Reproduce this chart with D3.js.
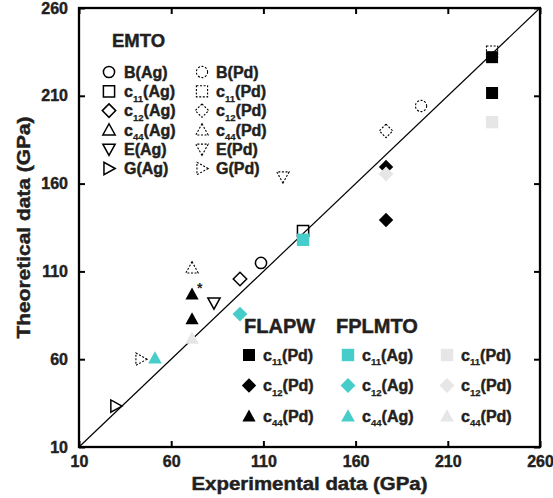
<!DOCTYPE html>
<html>
<head>
<meta charset="utf-8">
<script src="https://cdn.jsdelivr.net/npm/d3@7"></script>
<style>
  body { margin: 0; background: #fff; }
  text { font-family: "Liberation Sans", Arial, sans-serif; font-weight: bold; fill: #231f20; stroke: #231f20; stroke-width: 0.45px; }
</style>
</head>
<body>
<div id="chart"></div>
<script>
// experimental (x) vs theoretical (y) elastic constants, GPa
var emtoAgKeys = ["B", "c11", "c12", "E", "G"];
var emtoAgExp  = [108.7, 131.5, 97.3, 83.2, 30.0];
var emtoAgTheo = [114.8, 133.0, 105.7, 92.0, 33.3];

var emtoPdKeys = ["B", "c11", "c12", "c44", "E", "G"];
var emtoPdExp  = [195.5, 234.0, 176.5, 71.3, 120.6, 43.6];
var emtoPdTheo = [204.2, 235.2, 190.0, 112.0, 163.8, 60.0];

var flapwPdKeys = ["c11", "c11", "c12", "c12", "c44", "c44"];
var flapwPdExp  = [234.0, 234.0, 176.5, 176.5, 71.3, 71.3];
var flapwPdTheo = [232.0, 211.6, 169.5, 139.3, 83.0, 97.1];
var flapwPdStar = [false, false, false, false, false, true];

var fplmtoAgKeys = ["c11", "c12", "c44"];
var fplmtoAgExp  = [131.5, 97.3, 51.2];
var fplmtoAgTheo = [128.0, 85.7, 60.7];

var fplmtoPdKeys = ["c11", "c12", "c44"];
var fplmtoPdExp  = [234.0, 176.5, 71.3];
var fplmtoPdTheo = [195.0, 165.5, 72.0];

var tickValues = [10, 60, 110, 160, 210, 260];
var emtoLegendKeys = ["B", "c11", "c12", "c44", "E", "G"];
var fullLegendKeys = ["c11", "c12", "c44"];

var width = 553, height = 498;
var margin = { top: 8, right: 13, bottom: 51, left: 79 };
var cyan = "#46cdc9", grey = "#e6e6e6", ink = "#000";

var svg = d3.select("#chart").append("svg")
	.attr("width", width)
	.attr("height", height);

var x = d3.scaleLinear().domain([10, 260]).range([margin.left, width - margin.right]);
var y = d3.scaleLinear().domain([10, 260]).range([height - margin.bottom, margin.top]);

// marker outlines, r is roughly the half width
function shapePath(kind, r) {
	var p = d3.path();
	if (kind == "B") {
		p.moveTo(r, 0);
		p.arc(0, 0, r, 0, 2 * Math.PI);
	} else if (kind == "c11") {
		p.rect(-r, -r, 2 * r, 2 * r);
	} else if (kind == "c12") {
		var d = r * 1.2;
		p.moveTo(0, -d); p.lineTo(d, 0); p.lineTo(0, d); p.lineTo(-d, 0);
	} else if (kind == "c44") {
		p.moveTo(0, -r * 1.1); p.lineTo(r * 1.1, r * 0.9); p.lineTo(-r * 1.1, r * 0.9);
	} else if (kind == "E") {
		p.moveTo(0, r * 1.1); p.lineTo(r * 1.1, -r * 0.9); p.lineTo(-r * 1.1, -r * 0.9);
	} else if (kind == "G") {
		p.moveTo(r * 1.1, 0); p.lineTo(-r * 0.9, -r * 1.1); p.lineTo(-r * 0.9, r * 1.1);
	}
	p.closePath();
	return p.toString();
}

// marker styles per method
var styles = {
	agOpen: { fill: "none", stroke: ink, sw: 1.5, dash: null, r: 5.6 },
	pdDash: { fill: "none", stroke: ink, sw: 1.1, dash: "2,1.6", r: 5.6 },
	flapw: { fill: ink, stroke: "none", sw: 0, dash: null, r: 6 },
	fpAg: { fill: cyan, stroke: "none", sw: 0, dash: null, r: 6.2 },
	fpPd: { fill: grey, stroke: "none", sw: 0, dash: null, r: 6.2 }
};

function marker(g, kind, st, cx, cy) {
	g.append("path")
		.attr("d", shapePath(kind, st.r))
		.attr("transform", "translate(" + cx + "," + cy + ")")
		.attr("fill", st.fill)
		.attr("stroke", st.stroke)
		.attr("stroke-width", st.sw)
		.attr("stroke-dasharray", st.dash);
}

// frame + axes
var plot = svg.append("g");

plot.append("line")
	.attr("x1", x(10)).attr("y1", y(10))
	.attr("x2", x(260)).attr("y2", y(260))
	.attr("stroke", ink).attr("stroke-width", 1.2);

var xAxis = d3.axisBottom(x).tickValues(tickValues).tickSize(-6).tickPadding(9);
var yAxis = d3.axisLeft(y).tickValues(tickValues).tickSize(-6).tickPadding(11);
var xTop = d3.axisTop(x).tickValues(tickValues).tickSize(-6).tickFormat("");
var yRight = d3.axisRight(y).tickValues(tickValues).tickSize(-6).tickFormat("");

function styleAxis(g) {
	g.select(".domain").remove();
	g.selectAll(".tick line").attr("stroke", ink).attr("stroke-width", 2);
	g.selectAll(".tick text")
		.attr("fill", "#231f20")
		.style("font-size", "16px")
		.style("font-family", '"Liberation Sans", Arial, sans-serif')
		.style("font-weight", "bold");
}

svg.append("g").attr("transform", "translate(0," + y(10) + ")").call(xAxis).call(styleAxis);
svg.append("g").attr("transform", "translate(" + x(10) + ",0)").call(yAxis).call(styleAxis);
svg.append("g").attr("transform", "translate(0," + y(260) + ")").call(xTop).call(styleAxis);
svg.append("g").attr("transform", "translate(" + x(260) + ",0)").call(yRight).call(styleAxis);

svg.append("rect")
	.attr("x", x(10)).attr("y", y(260))
	.attr("width", x(260) - x(10)).attr("height", y(10) - y(260))
	.attr("fill", "none").attr("stroke", ink).attr("stroke-width", 2.3);

svg.append("text")
	.attr("x", (x(10) + x(260)) / 2)
	.attr("y", 490)
	.attr("text-anchor", "middle")
	.attr("textLength", 236).attr("lengthAdjust", "spacingAndGlyphs")
	.style("font-size", "17.5px")
	.text("Experimental data (GPa)");

svg.append("text")
	.attr("transform", "translate(30," + (y(10) + y(260)) / 2 + ") rotate(-90)")
	.attr("text-anchor", "middle")
	.attr("textLength", 222).attr("lengthAdjust", "spacingAndGlyphs")
	.style("font-size", "18px")
	.text("Theoretical data (GPa)");

// data points
var pts = svg.append("g");
emtoAgKeys.forEach(function (k, i) { marker(pts, k, styles.agOpen, x(emtoAgExp[i]), y(emtoAgTheo[i])); });
emtoPdKeys.forEach(function (k, i) { marker(pts, k, styles.pdDash, x(emtoPdExp[i]), y(emtoPdTheo[i])); });
flapwPdKeys.forEach(function (k, i) {
	marker(pts, k, styles.flapw, x(flapwPdExp[i]), y(flapwPdTheo[i]));
	if (flapwPdStar[i]) {
		pts.append("text")
			.attr("x", x(flapwPdExp[i]) + 5)
			.attr("y", y(flapwPdTheo[i]) - 1)
			.style("font-size", "14px")
			.style("stroke-width", "0")
			.text("*");
	}
});
fplmtoAgKeys.forEach(function (k, i) { marker(pts, k, styles.fpAg, x(fplmtoAgExp[i]), y(fplmtoAgTheo[i])); });
fplmtoPdKeys.forEach(function (k, i) { marker(pts, k, styles.fpPd, x(fplmtoPdExp[i]), y(fplmtoPdTheo[i])); });

// legend labels, c11 -> c with subscript 11
function legendLabel(g, key, metal, lx, ly, size) {
	var t = g.append("text").attr("x", lx).attr("y", ly).style("font-size", size + "px");
	if (key.charAt(0) == "c") {
		t.append("tspan").text("c");
		t.append("tspan").attr("dy", 4.5).style("font-size", (size * 0.6) + "px").style("stroke-width", "0.25px").text(key.slice(1));
		t.append("tspan").attr("dy", -4.5).text("(" + metal + ")");
	} else {
		t.text(key + "(" + metal + ")");
	}
}

var leg = svg.append("g");
leg.append("text").attr("x", 112).attr("y", 47).style("font-size", "18.5px").text("EMTO");
emtoLegendKeys.forEach(function (k, i) {
	var ry = 72 + i * 19.3;
	marker(leg, k, styles.agOpen, 109, ry);
	legendLabel(leg, k, "Ag", 124, ry + 5.8, 16);
	marker(leg, k, styles.pdDash, 202, ry);
	legendLabel(leg, k, "Pd", 216, ry + 5.8, 16);
});

leg.append("text").attr("x", 244).attr("y", 333).style("font-size", "20px").text("FLAPW");
leg.append("text").attr("x", 336).attr("y", 333).style("font-size", "20px").text("FPLMTO");
fullLegendKeys.forEach(function (k, i) {
	var ry = 355 + i * 30.5;
	marker(leg, k, styles.flapw, 249, ry);
	legendLabel(leg, k, "Pd", 263, ry + 5.8, 16);
	marker(leg, k, styles.fpAg, 348, ry);
	legendLabel(leg, k, "Ag", 362, ry + 5.8, 16);
	marker(leg, k, styles.fpPd, 447, ry);
	legendLabel(leg, k, "Pd", 461, ry + 5.8, 16);
});
</script>
</body>
</html>
